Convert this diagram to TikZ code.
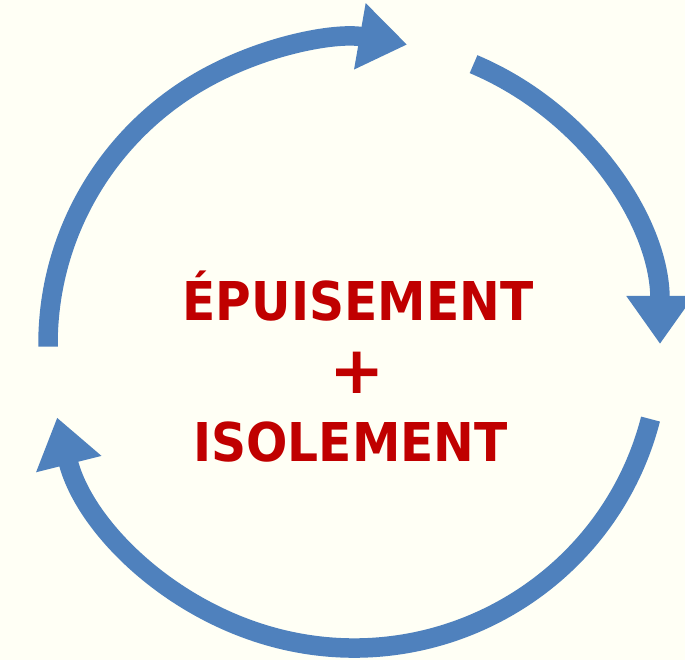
\documentclass[tikz,border=0pt]{standalone}
\usepackage{fontspec}
\setmainfont{DejaVu Sans}
\usetikzlibrary{arrows.meta}
\definecolor{bgcream}{HTML}{FFFFF5}
\definecolor{cycleblue}{HTML}{4F81BD}
\definecolor{titlered}{HTML}{C00000}
\tikzset{
  cyclearc/.style={draw=cycleblue, line width=19.5pt, line cap=butt,
    -{Triangle[width=64pt,length=48pt]}},
  title/.style={text=titlered, font=\fontsize{53.5}{60}\selectfont\bfseries,
    inner sep=0pt, anchor=base},
}
\newcommand{\narrow}[1]{\scalebox{0.91}[1]{#1}}
\begin{document}
\begin{tikzpicture}[x=1pt,y=1pt]
  \fill[bgcream] (0,0) rectangle (685,660);
  \useasboundingbox (0,0) rectangle (685,660);
  \coordinate (c) at (354,316);
  % three arcs forming the cycle, clockwise
  \draw[cyclearc] ([shift={(180.5:306 and 304)}]c) arc[start angle=180.5, end angle=80, x radius=306, y radius=304];
  \draw[cyclearc] ([shift={(67:306 and 304)}]c) arc[start angle=67, end angle=0, x radius=306, y radius=304];
  \draw[cyclearc] ([shift={(-14.3:306 and 304)}]c) arc[start angle=-14.3, end angle=-166, x radius=306, y radius=304];
  % central caption
  \node[title] (l1) at (358,339) {\narrow{ÉPUISEMENT}};
  \node[title, font=\fontsize{66}{70}\selectfont\bfseries] (l2) at (357,266) {+};
  \node[title] (l3) at (350.5,198) {\narrow{ISOLEMENT}};
\end{tikzpicture}
\end{document}
